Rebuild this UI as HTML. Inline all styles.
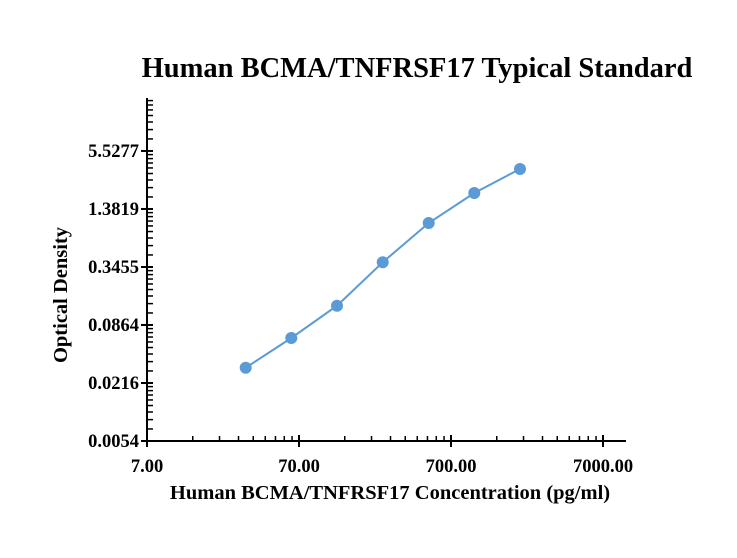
<!DOCTYPE html>
<html><head><style>
body{margin:0;background:#fff}
text{font-family:"Liberation Serif",serif;font-weight:bold;fill:#000}
</style></head><body>
<svg id="s" width="737" height="553" xmlns="http://www.w3.org/2000/svg">
<text x="417" y="77" font-size="28.5" text-anchor="middle">Human BCMA/TNFRSF17 Typical Standard</text>
<text x="390" y="499" font-size="20.5" text-anchor="middle">Human BCMA/TNFRSF17 Concentration (pg/ml)</text>
<text transform="translate(67,295) rotate(-90)" font-size="20.5" text-anchor="middle">Optical Density</text>
<g id="ax" stroke="#000" stroke-width="2"></g>
<g id="lb" font-size="18.5"></g>
<polyline points="245.7,367.7 291.3,338 337,305.7 382.7,262.3 428.7,223 474.3,193 520,169" fill="none" stroke="#5b9bd5" stroke-width="2"/>
<g fill="#5b9bd5">
<circle cx="245.7" cy="367.7" r="6"/><circle cx="291.3" cy="338" r="6"/><circle cx="337" cy="305.7" r="6"/><circle cx="382.7" cy="262.3" r="6"/><circle cx="428.7" cy="223" r="6"/><circle cx="474.3" cy="193" r="6"/><circle cx="520" cy="169" r="6"/>
</g>
</svg>
<script>
var ax=document.getElementById('ax'),lb=document.getElementById('lb'),h='',t='';
function L(a,b,c,d,w){h+='<line x1="'+a+'" y1="'+b+'" x2="'+c+'" y2="'+d+'"'+(w?' stroke-width="'+w+'"':'')+'/>';}
L(147,441,626,441);L(147,98,147,442);
var X0=147,D=152;
[7,70,700,7000].forEach(function(v,i){var x=X0+D*i;L(x,435,x,447);t+='<text x="'+x+'" y="472" text-anchor="middle">'+v.toFixed(2)+'</text>';
 if(i<3)for(var k=2;k<10;k++){var xx=X0+D*i+D*Math.log10(k);L(xx,436,xx,441,1.5);}});
var Y0=441,DY=96.35;
function yv(v){return Y0-DY*Math.log10(v/0.0054);}
var M=[0.0054,0.0216,0.0864,0.3455,1.3819,5.5277,22.11];
M.forEach(function(v,i){var y=yv(v);if(i<6){L(141,y,153,y);t+='<text x="139" y="'+(y+6)+'" text-anchor="end">'+v.toFixed(4)+'</text>';}
 if(i<6){var b=M[i+1];for(var j=1;j<9;j++){var vv=v+(b-v)*j/9,yy=yv(vv);if(yy>=99)L(147,yy,153,yy,1.5);}}});
ax.innerHTML=h;lb.innerHTML=t;
</script>
</body></html>
